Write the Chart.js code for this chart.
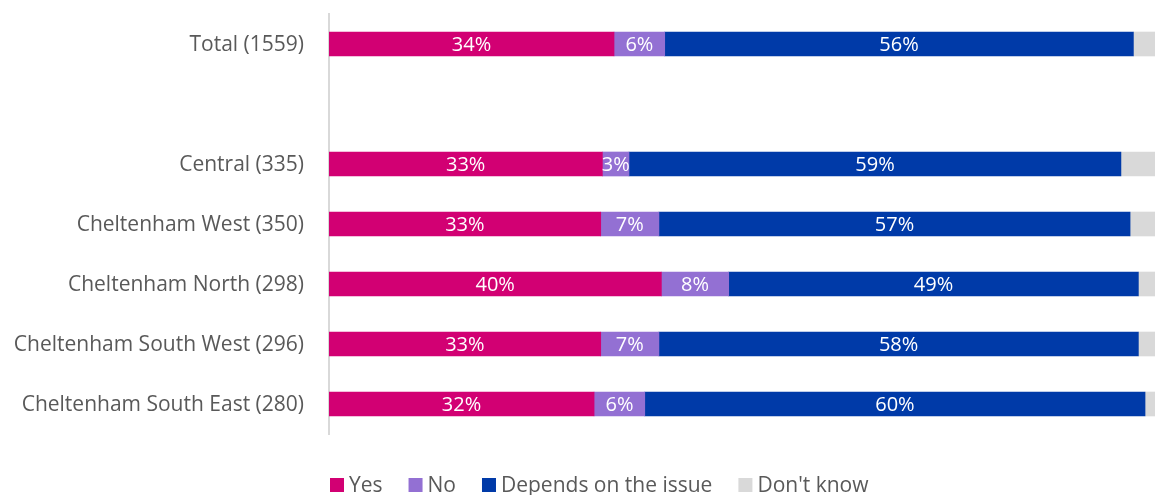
<!DOCTYPE html>
<html lang="en">
<head>
    <meta charset="UTF-8">
    <title>Cheltenham survey</title>
    <script src="https://cdn.jsdelivr.net/npm/chart.js"></script>
    <style>
        html, body { margin: 0; padding: 0; background: #ffffff; }
        .chart-container { width: 1155px; height: 495px; position: relative; }
    </style>
</head>
<body>
    <div class="chart-container">
        <canvas id="surveyChart"></canvas>
    </div>

    <script>
        // data
        const categories = ['Total (1559)', '', 'Central (335)', 'Cheltenham West (350)', 'Cheltenham North (298)',
            'Cheltenham South West (296)', 'Cheltenham South East (280)'];
        const yes = [34.3, null, 32.9, 32.7, 40.0, 32.7, 31.9];
        const no = [6.1, null, 3.2, 7.0, 8.1, 7.0, 6.1];
        const depends = [56.4, null, 59.2, 56.7, 49.3, 57.7, 60.2];
        const dontKnow = [3.2, null, 4.7, 3.6, 2.6, 2.6, 1.8];
        const seriesNames = ['Yes', 'No', 'Depends on the issue', "Don't know"];
        const seriesColors = ['#D20073', '#9370D3', '#003AA8', '#D9D9D9'];

        const fontFamily = "'Open Sans', sans-serif";
        const textColor = '#595959';

        // white % labels inside bars (not for Don't know)
        const barLabels = {
            id: 'barLabels',
            afterDatasetsDraw(chart) {
                const ctx = chart.ctx;
                ctx.save();
                ctx.fillStyle = '#ffffff';
                ctx.font = '20px ' + fontFamily;
                ctx.textAlign = 'center';
                ctx.textBaseline = 'middle';
                for (let d = 0; d < 3; d++) {
                    const meta = chart.getDatasetMeta(d);
                    meta.data.forEach((bar, i) => {
                        const v = chart.data.datasets[d].data[i];
                        if (v == null) return;
                        const cx = (bar.x + bar.base) / 2;
                        ctx.fillText(Math.round(v) + '%', cx, bar.y + 1);
                    });
                }
                ctx.restore();
            }
        };

        // legend drawn by hand so spacing matches the original
        const bottomLegend = {
            id: 'bottomLegend',
            afterDraw(chart) {
                const ctx = chart.ctx;
                ctx.save();
                ctx.font = '21px ' + fontFamily;
                ctx.textBaseline = 'middle';
                let x = 330;
                const y = 485;
                chart.data.datasets.forEach(ds => {
                    ctx.fillStyle = ds.backgroundColor;
                    ctx.fillRect(x, y - 7, 14, 14);
                    ctx.fillStyle = textColor;
                    ctx.fillText(ds.label, x + 19, y + 1);
                    x += 19 + ctx.measureText(ds.label).width + 26;
                });
                ctx.restore();
            }
        };

        const ctx = document.getElementById('surveyChart').getContext('2d');
        new Chart(ctx, {
            type: 'bar',
            data: {
                labels: categories,
                datasets: seriesNames.map((name, k) => ({
                    label: name,
                    data: [yes, no, depends, dontKnow][k],
                    backgroundColor: seriesColors[k]
                }))
            },
            options: {
                indexAxis: 'y',
                responsive: true,
                maintainAspectRatio: false,
                animation: false,
                barThickness: 24,
                layout: { padding: { top: 14, left: 0, right: 0, bottom: 61 } },
                scales: {
                    x: {
                        display: false,
                        stacked: true,
                        min: 0,
                        max: 99.4
                    },
                    y: {
                        stacked: true,
                        grid: { display: false },
                        border: { display: true, color: '#D9D9D9', width: 2 },
                        ticks: {
                            color: textColor,
                            padding: 17,
                            labelOffset: 1.5,
                            font: { family: fontFamily, size: 21 }
                        },
                        afterFit: s => {
                            s.width = 329;
                            s.paddingTop = 0;
                            s.paddingBottom = 0;
                        }
                    }
                },
                plugins: {
                    legend: { display: false },
                    tooltip: { enabled: false }
                }
            },
            plugins: [barLabels, bottomLegend]
        });
    </script>
</body>
</html>
